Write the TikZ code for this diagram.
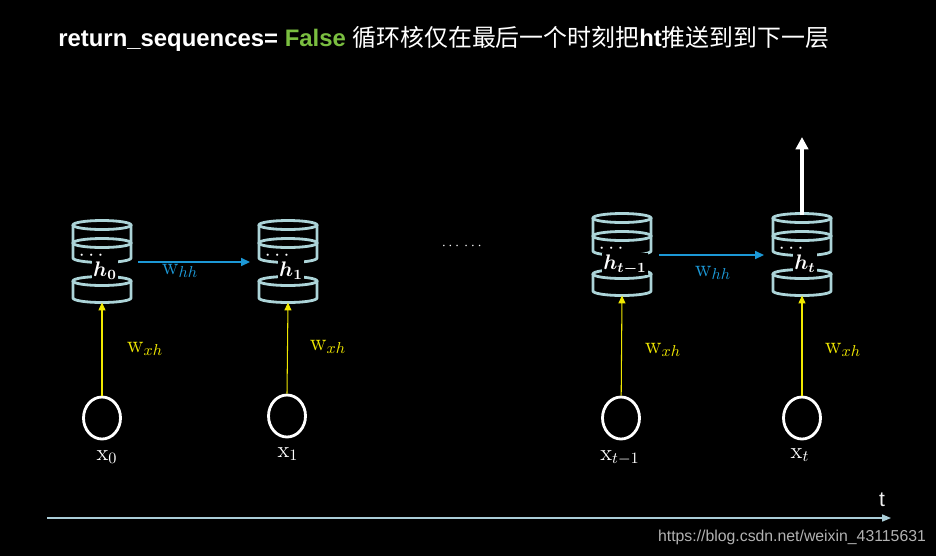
\documentclass[tikz,border=0pt]{standalone}
\usepackage{amsmath, amssymb}
\usepackage{bm}
\usepackage{fontspec}
\setsansfont{Liberation Sans}
\newfontfamily\cjk{Noto Sans CJK SC}
\usetikzlibrary{arrows.meta, positioning, shapes.geometric}
\definecolor{cellCyan}{RGB}{172,212,216}
\definecolor{wxhYellow}{RGB}{240,232,0}
\definecolor{whhBlue}{RGB}{28,152,214}
\definecolor{falseGreen}{RGB}{122,190,64}
\definecolor{axisBlue}{RGB}{170,205,215}
\definecolor{markGray}{gray}{0.7}

% one memory cell: name, x, y (top ring), label
\newcommand{\cellstack}[4]{%
  \begin{scope}[shift={(#2,#3)}]
    \draw[cell] (0,0) ellipse (0.58cm and 0.09cm);
    \draw[cell] (0,18) ellipse (0.58cm and 0.09cm);
    \draw[cell] (-29,0) -- (-29,33) arc[start angle=180, end angle=360, x radius=0.58cm, y radius=0.09cm] -- (29,0);
    \draw[cell] (0,56) ellipse (0.58cm and 0.09cm);
    \draw[cell] (-29,56) -- (-29,73) arc[start angle=180, end angle=360, x radius=0.58cm, y radius=0.09cm] -- (29,56);
    \coordinate (#1-top) at (0,-3);
    \coordinate (#1-bot) at (0,77.5);
    \coordinate (#1-e) at (29,37);
    \coordinate (#1-w) at (-29,37);
    \node[celldots] (#1-dots) at (-9,31) {$\cdots$};
    \node[hlab] (#1-lab) at (3,51) {$\bm{#4}$};
  \end{scope}}

\begin{document}
\begin{tikzpicture}[x=0.02cm, y=-0.02cm,
    cell/.style={draw=cellCyan, line width=1.6pt},
    celldots/.style={text=white, inner sep=0pt, font=\fontsize{11.5}{13}\selectfont},
    hlab/.style={anchor=base, text=white, fill=black, inner sep=0.6pt, font=\fontsize{11.5}{13}\selectfont},
    xin/.style={ellipse, draw=white, line width=1.6pt, minimum width=0.74cm, minimum height=0.84cm, inner sep=0pt},
    xlab/.style={anchor=base, text=white, inner sep=0pt, font=\fontsize{13}{15}\selectfont},
    wxh/.style={anchor=base, text=wxhYellow, inner sep=0pt, font=\fontsize{13.5}{15}\selectfont},
    whh/.style={anchor=base, text=whhBlue, inner sep=0pt, font=\fontsize{13.5}{15}\selectfont},
    xharrow/.style={draw=wxhYellow, line width=0.6pt, -{Triangle[width=4pt, length=4.5pt]}},
    hharrow/.style={draw=whhBlue, line width=0.8pt, -{Triangle[width=4.5pt, length=5pt]}},
    outarrow/.style={draw=white, line width=1.8pt, -{Triangle[width=7pt, length=7pt]}},
    axis/.style={draw=axisBlue, line width=0.7pt, -{Triangle[width=4pt, length=5pt]}}]

    \fill[black] (0,0) rectangle (936,556);

    % title
    \node[anchor=base west, inner sep=0pt, text=white, font=\sffamily\bfseries\fontsize{13.6}{16}\selectfont] (title) at (58,46)
        {return\_sequences= \textcolor{falseGreen}{False} {\cjk\mdseries 循环核仅在最后一个时刻把}ht{\cjk\mdseries 推送到到下一层}};

    % cells
    \cellstack{h0}{102}{225}{h_0}
    \cellstack{h1}{288}{225}{h_1}
    \cellstack{ht1}{622}{218}{h_{t-1}}
    \cellstack{ht}{802}{218}{h_t}

    \node[text=white, inner sep=0pt, font=\fontsize{8.5}{10}\selectfont] (gap) at (463,246) {$\cdots\,\cdots$};

    % inputs
    \node[xin] (x0) at (102,418) {};
    \node[xin] (x1) at (287,416) {};
    \node[xin] (xt1) at (621,418) {};
    \node[xin] (xt) at (802,418) {};

    \node[xlab] (x0-lab) at (107,460) {$\mathrm{x}_0$};
    \node[xlab] (x1-lab) at (288,457) {$\mathrm{x}_1$};
    \node[xlab] (xt1-lab) at (620,460) {$\mathrm{x}_{t-1}$};
    \node[xlab] (xt-lab) at (800,458) {$\mathrm{x}_t$};

    % input weights
    \draw[xharrow] (x0) -- (h0-bot);
    \draw[xharrow] (x1.north) -- (h1-bot);
    \draw[xharrow] (xt1) -- (ht1-bot);
    \draw[xharrow] (xt) -- (ht-bot);
    \node[wxh] (wxh0) at (145,352) {$\mathrm{w}_{xh}$};
    \node[wxh] (wxh1) at (328,350) {$\mathrm{w}_{xh}$};
    \node[wxh] (wxh2) at (663,353) {$\mathrm{w}_{xh}$};
    \node[wxh] (wxh3) at (843,353) {$\mathrm{w}_{xh}$};

    % recurrent weights
    \draw[hharrow, shorten <=0.14cm, shorten >=0.18cm] (h0-e) -- (h1-w);
    \draw[hharrow, shorten <=0.16cm, shorten >=0.18cm] (ht1-e) -- (ht-w);
    \node[whh] (whh0) at (180,274) {$\mathrm{w}_{hh}$};
    \node[whh] (whh1) at (713,276) {$\mathrm{w}_{hh}$};

    % output of last step
    \coordinate (out) at (802,137);
    \draw[outarrow] (ht-top) -- (out);

    % time axis
    \coordinate (t0) at (47,518);
    \coordinate (t1) at (891,518);
    \draw[axis] (t0) -- (t1);
    \node[text=white!90!gray, inner sep=0pt, font=\sffamily\fontsize{12}{14}\selectfont] (tlab) at (882,500) {t};
    \node[text=markGray, inner sep=0pt, font=\sffamily\fontsize{9}{11}\selectfont] (mark) at (792,537) {https://blog.csdn.net/weixin\_43115631};
\end{tikzpicture}
\end{document}
